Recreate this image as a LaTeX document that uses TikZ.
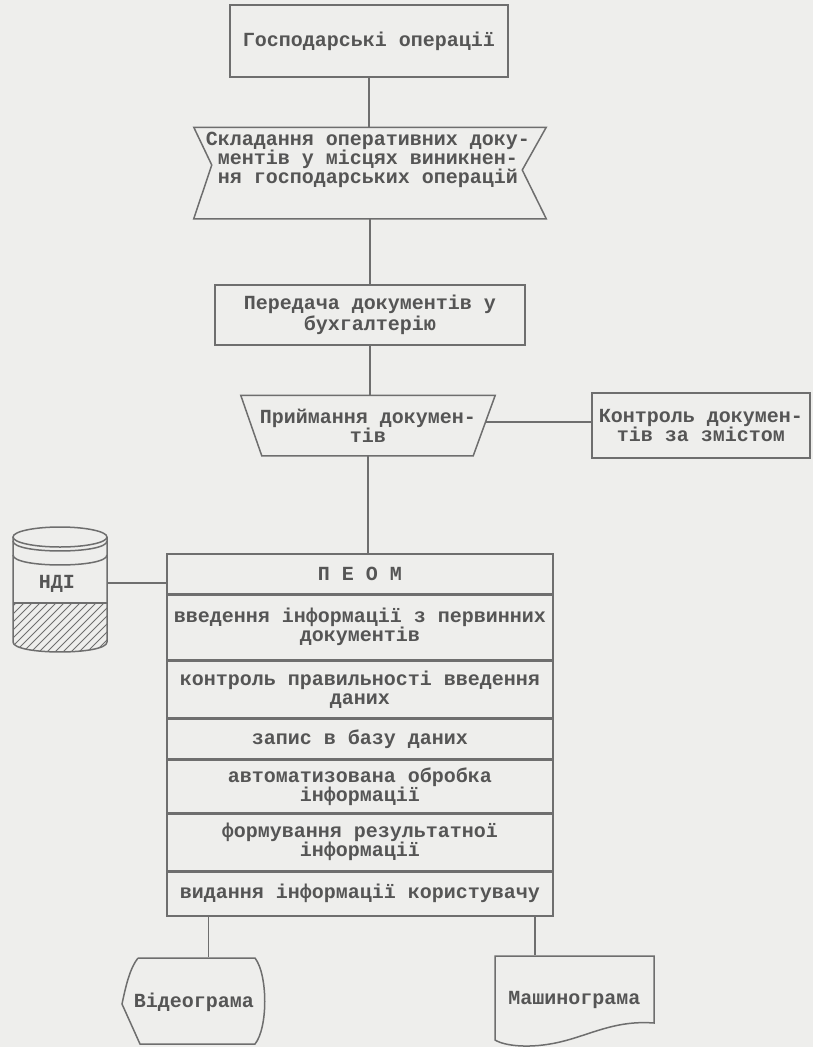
\documentclass[tikz,border=0pt]{standalone}
\usepackage{fontspec}
\newfontfamily\tw{Liberation Mono}
\usetikzlibrary{calc}
\definecolor{bgcol}{RGB}{238,238,236}
\definecolor{lncol}{RGB}{110,110,110}
\definecolor{txcol}{RGB}{85,85,85}
\tikzset{
  rbox/.style={draw=lncol, rectangle, inner sep=0pt, align=center},
  tbox/.style={rectangle, inner sep=0pt, align=center},
  conn/.style={draw=lncol},
  shp/.style={draw=lncol},
  hatch/.style={draw=lncol, line width=0.9pt},
}
\begin{document}
\begin{tikzpicture}[x=1pt,y=-1pt, line width=1.5pt,
  every node/.style={font=\tw\bfseries\fontsize{20}{19}\selectfont, text=txcol}]
\useasboundingbox (0,0) rectangle (813,1047);
\fill[bgcol] (0,0) rectangle (813,1047);

% top box
\node[rbox, minimum width=278, minimum height=72] (b1) at (369,41) {Господарські операції};

% flag shape
\node[tbox, minimum width=351, minimum height=90] (b2) at (370,173) {};
\draw[shp] (b2.north west) -- (b2.north east) -- ($(b2.east)+(-24,-3)$) -- (b2.south east)
  -- (b2.south west) -- ($(b2.west)+(18,-8)$) -- cycle;
\node[tbox] (b2t) at ($(b2.center)+(-2,-13)$) {Складання оперативних доку-\\ментів у місцях виникнен-\\ня господарських операцій};

% transfer box
\node[rbox, minimum width=310, minimum height=60, font=\tw\bfseries\fontsize{20}{21}\selectfont] (b3) at (370,315) {Передача документів у\\бухгалтерію};

% trapezoid
\node[tbox, minimum width=253, minimum height=59] (t) at (368,425.5) {Приймання докумен-\\тів};
\draw[shp] (t.north west) -- (t.north east) -- ($(t.south east)+(-22,0)$) -- ($(t.south west)+(21,0)$) -- cycle;
\coordinate (tr) at ($(t.north east)!0.44!($(t.south east)+(-22,0)$)$);

% control box
\node[rbox, minimum width=218, minimum height=65] (k) at (701,425.5) {Контроль докумен-\\тів за змістом};

% PC block
\node[rbox, minimum width=386, minimum height=40, anchor=north] (p0) at (360,553) {П Е О М};
\node[rbox, minimum width=386, minimum height=64, anchor=north] (p1) at (p0.south) {введення інформації з первинних\\документів};
\node[rbox, minimum width=386, minimum height=57, anchor=north] (p2) at (p1.south) {контроль правильності введення\\даних};
\node[rbox, minimum width=386, minimum height=39, anchor=north] (p3) at (p2.south) {запис в базу даних};
\node[rbox, minimum width=386, minimum height=53, anchor=north] (p4) at (p3.south) {автоматизована обробка\\інформації};
\node[rbox, minimum width=386, minimum height=56, anchor=north] (p5) at (p4.south) {формування результатної\\інформації};
\node[rbox, minimum width=386, minimum height=44, anchor=north] (p6) at (p5.south) {видання інформації користувачу};

% database cylinder
\begin{scope}
  \clip (13,603) -- (107,603) -- (107,642) .. controls (107,655.3) and (13,655.3) .. (13,642) -- cycle;
  \foreach \i in {-70,-62,...,110} \draw[hatch] (\i,665) -- (\i+65,600);
\end{scope}
\draw[shp] (60,537) ellipse [x radius=47, y radius=10];
\draw[shp] (13,541) .. controls (13,554.3) and (107,554.3) .. (107,541);
\draw[shp] (13,555) .. controls (13,568.3) and (107,568.3) .. (107,555);
\draw[shp] (13,537) -- (13,642) .. controls (13,655.3) and (107,655.3) .. (107,642) -- (107,537);
\draw[shp] (13,603) -- (107,603);
\node[tbox] (ndi) at (57,584) {НДІ};
\coordinate (cylR) at (107,583);

% outputs
\node[tbox, minimum width=144, minimum height=88] (vid) at (194,1002) {Відеограма};
\draw[shp] (138,958) -- (255,958) .. controls (268,975) and (268,1028) .. (255,1044) -- (140,1044)
  -- (122,1004) .. controls (126,985) and (130,968) .. (138,958);
\node[tbox, minimum width=159, minimum height=88] (mash) at (574.5,1000) {Машинограма};
\draw[shp] (495,956) -- (654,956) -- (654,1023) .. controls (615,1020) and (590,1035) .. (560,1042)
  .. controls (530,1049) and (505,1046) .. (495,1040) -- cycle;

% connectors
\draw[conn] (b1.south) -- (b1.south |- b2.north);
\draw[conn] (b2.south) -- (b2.south |- b3.north);
\draw[conn] (b3.south) -- (b3.south |- t.north);
\draw[conn] (tr) -- (tr -| k.west);
\draw[conn] (t.south) -- (t.south |- p0.north);
\draw[conn] (cylR) -- (cylR -| p0.west);
\coordinate (o1) at ($(p6.south west)+(42,0)$);
\coordinate (o2) at ($(p6.south east)+(-19,0)$);
\draw[conn] (o1) -- (o1 |- vid.north);
\draw[conn] (o2) -- (o2 |- mash.north);
\end{tikzpicture}
\end{document}
